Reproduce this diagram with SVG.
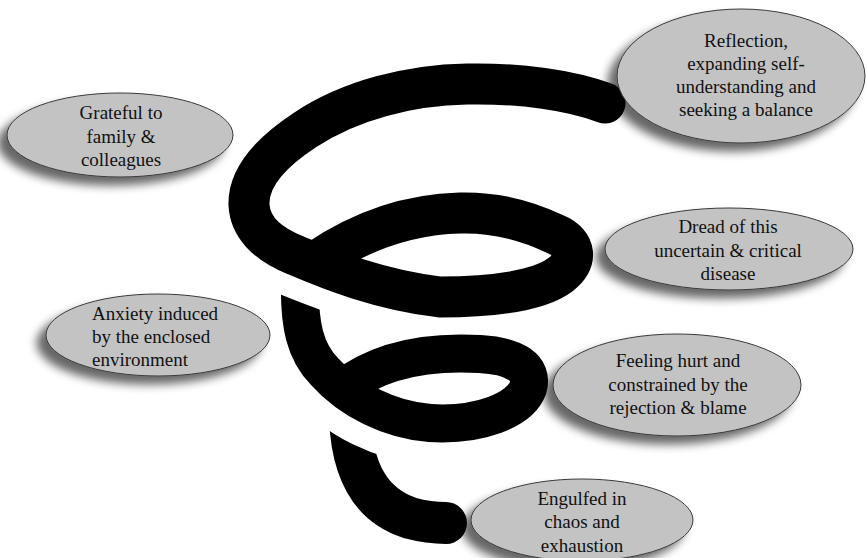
<svg xmlns="http://www.w3.org/2000/svg" width="867" height="558" viewBox="0 0 867 558">
<style>
.sp{fill:none;stroke:#000;}
.halo{fill:none;stroke:#fff;stroke-linecap:butt;}
.node ellipse{fill:#c3c3c3;stroke:#3a3a3a;stroke-width:1;}
.node text{font-family:"Liberation Serif","Times New Roman",serif;font-size:19px;fill:#111;text-anchor:middle;}
.node text.l{text-anchor:start;}
</style>
<defs>
<filter id="sh" x="-25%" y="-30%" width="150%" height="180%">
<feGaussianBlur in="SourceAlpha" stdDeviation="5"/>
<feOffset dx="-9" dy="8" result="b"/>
<feComponentTransfer><feFuncA type="linear" slope="0.6"/></feComponentTransfer>
<feMerge><feMergeNode/><feMergeNode in="SourceGraphic"/></feMerge>
</filter>
</defs>
<g id="connectors">
<path class="sp" stroke-width="42" stroke-linecap="round" d="M350,418 C352,470 370,505 410,518 C425,522 437,523 446,523"/>
<path class="halo" stroke-width="84" d="M308,350 C313,362 318,366 325,372 C350,400 390,420 430,423"/>
<path class="sp" stroke-width="38" stroke-linecap="butt" d="M300,282 C299,325 305,352 325,372 C350,400 390,420 430,423 C480,426 520,410 528,388 C534,368 515,356 480,354 C430,351 380,358 340,390"/>
<path class="halo" stroke-width="84" d="M249,205 C250,225 265,243 295,255 C312,262 328,268 345,274"/>
<path class="sp" stroke-width="41" stroke-linecap="round" d="M605,103 C570,90 520,83 467,84 C410,85 350,100 305,130 C270,153 248,178 249,205 C250,225 265,243 295,255 C330,270 380,290 440,297 C495,297 540,290 560,275 C578,262 577,243 555,234 C530,222 500,212 460,213 C420,214 370,225 318,260"/>
</g>
<g id="n1" class="node" filter="url(#sh)"><ellipse cx="120" cy="135" rx="113" ry="42"/></g>
<g id="n1t" class="node"><text x="121" y="119">Grateful to</text><text x="121" y="143">family &amp;</text><text x="121" y="166">colleagues</text></g>
<g id="n2" class="node" filter="url(#sh)"><ellipse cx="741" cy="76" rx="124" ry="67"/></g>
<g id="n2t" class="node"><text x="746" y="47">Reflection,</text><text x="746" y="70">expanding self-</text><text x="746" y="93">understanding and</text><text x="746" y="116">seeking a balance</text></g>
<g id="n3" class="node" filter="url(#sh)"><ellipse cx="729" cy="249" rx="124" ry="41"/></g>
<g id="n3t" class="node"><text x="728" y="233">Dread of this</text><text x="728" y="257">uncertain &amp; critical</text><text x="728" y="280">disease</text></g>
<g id="n4" class="node" filter="url(#sh)"><ellipse cx="158" cy="335" rx="112" ry="41"/></g>
<g id="n4t" class="node"><text class="l" x="92" y="320">Anxiety induced</text><text class="l" x="92" y="343">by the enclosed</text><text class="l" x="92" y="366">environment</text></g>
<g id="n5" class="node" filter="url(#sh)"><ellipse cx="677" cy="385" rx="124" ry="51"/></g>
<g id="n5t" class="node"><text x="678" y="367">Feeling hurt and</text><text x="678" y="391">constrained by the</text><text x="678" y="414">rejection &amp; blame</text></g>
<g id="n6" class="node" filter="url(#sh)"><ellipse cx="582" cy="520" rx="111" ry="41"/></g>
<g id="n6t" class="node"><text x="582" y="505">Engulfed in</text><text x="582" y="528">chaos and</text><text x="582" y="552">exhaustion</text></g>
</svg>
